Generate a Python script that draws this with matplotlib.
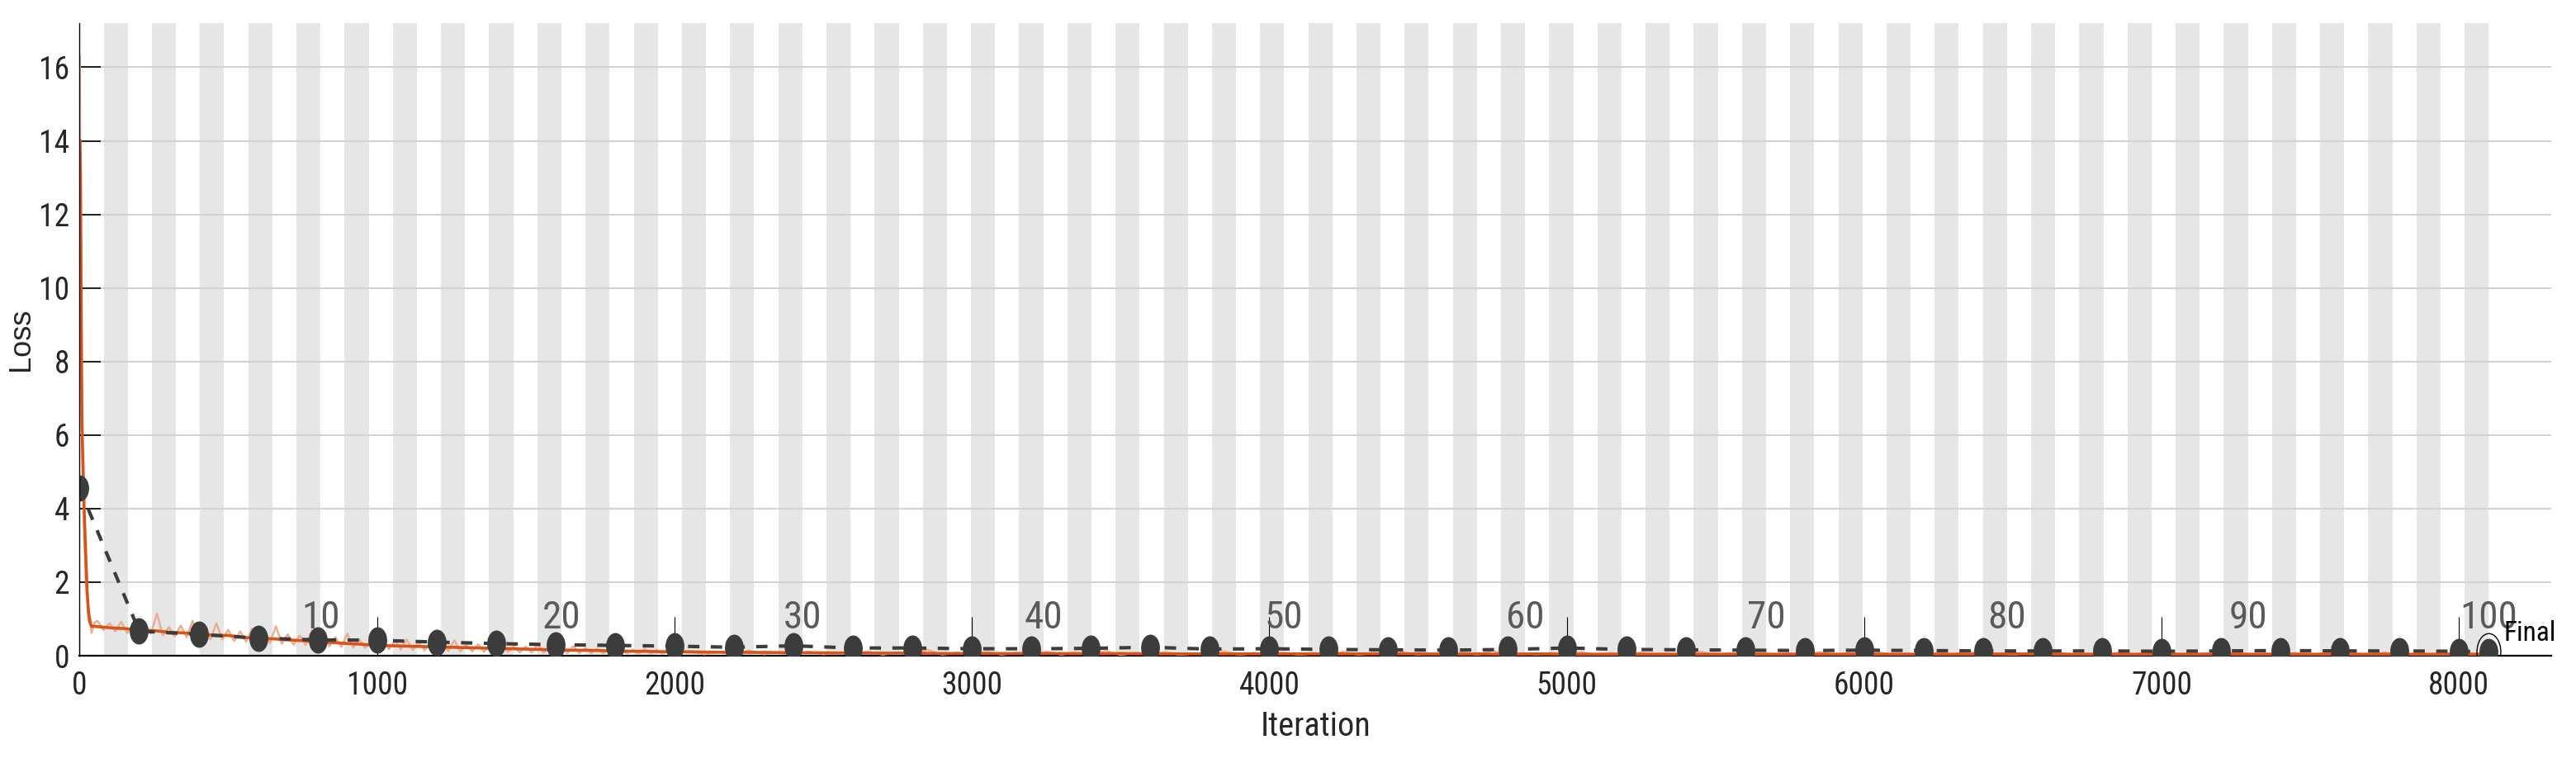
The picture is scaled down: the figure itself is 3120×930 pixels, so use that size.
"""
Training progress plot: loss vs iteration with epoch stripes and validation points.
"""
import matplotlib
matplotlib.use('Agg')
import matplotlib.pyplot as plt
from matplotlib.path import Path
import numpy as np

# ---- data ----
iters_per_epoch = 81
n_epochs = 100
epoch_labels = [10, 20, 30, 40, 50, 60, 70, 80, 90, 100]

early_iters = [1, 2, 3, 5, 8, 12, 16, 20, 25, 30, 35, 40, 50]
early_raw = [16.3, 14.0, 12.6, 9.2, 6.0, 4.6, 3.2, 2.2, 1.6, 0.95, 1.05, 0.62, 0.90]
early_smooth = [14.0, 13.6, 13.0, 10.0, 6.3, 5.0, 3.8, 2.9, 1.8, 1.2, 0.9, 0.8, 0.8]

raw_mid = [
    0.95, 0.70, 0.88, 0.66, 0.92, 0.62, 0.80, 0.58, 0.84, 0.60,
    1.15, 0.55, 0.78, 0.52, 0.82, 0.50, 0.95, 0.48, 0.72, 0.45,
    0.88, 0.44, 0.70, 0.40, 0.66, 0.38, 0.74, 0.36, 0.62, 0.35,
    0.80, 0.33, 0.58, 0.30, 0.55, 0.29, 0.68, 0.27, 0.52, 0.26,
    0.50, 0.24, 0.60, 0.22, 0.45, 0.21, 0.42, 0.19, 0.48, 0.18,
    0.40, 0.17, 0.44, 0.16, 0.36, 0.15, 0.38, 0.14, 0.33, 0.13,
    0.42, 0.12, 0.30, 0.12, 0.31, 0.11, 0.28, 0.10, 0.34, 0.10,
    0.26, 0.09, 0.25, 0.09, 0.30, 0.08, 0.23, 0.08, 0.22, 0.07,
    0.26, 0.07, 0.20, 0.07, 0.19, 0.06, 0.22, 0.06, 0.18, 0.06,
    0.17, 0.05, 0.19, 0.05, 0.16, 0.05, 0.15, 0.05,
]
raw_late = [
    0.12, 0.04, 0.10, 0.03, 0.14, 0.04, 0.09, 0.03, 0.11, 0.04,
    0.08, 0.03, 0.12, 0.03, 0.09, 0.04, 0.16, 0.03, 0.08, 0.03,
    0.10, 0.03, 0.08, 0.02, 0.11, 0.03, 0.09, 0.03, 0.13, 0.02,
    0.08, 0.03, 0.10, 0.02, 0.07, 0.03, 0.12, 0.02, 0.08, 0.03,
    0.09, 0.02, 0.07, 0.03, 0.11, 0.02, 0.08, 0.02, 0.10, 0.03,
    0.07, 0.02, 0.09, 0.02, 0.14, 0.02, 0.07, 0.03, 0.08, 0.02,
    0.10, 0.02, 0.07, 0.02, 0.09, 0.03, 0.06, 0.02, 0.11, 0.02,
    0.07, 0.02, 0.08, 0.02, 0.06, 0.03, 0.10, 0.02, 0.07, 0.02,
    0.09, 0.02, 0.06, 0.02, 0.08, 0.02, 0.12, 0.02, 0.06, 0.02,
    0.07, 0.02, 0.09, 0.02, 0.06, 0.02, 0.08, 0.02, 0.10, 0.02,
    0.06, 0.02, 0.07, 0.02, 0.09, 0.02, 0.06, 0.02, 0.08, 0.02,
    0.07, 0.02, 0.06, 0.02, 0.09, 0.02, 0.06, 0.02, 0.07, 0.02,
    0.06, 0.03,
]
smooth_mid = [
    0.76, 0.74, 0.70, 0.68, 0.64, 0.62, 0.60, 0.56, 0.55, 0.50,
    0.47, 0.46, 0.43, 0.41, 0.37, 0.36, 0.33, 0.31, 0.28, 0.27,
    0.26, 0.25, 0.24, 0.23, 0.22, 0.21, 0.20, 0.19, 0.18, 0.17,
    0.16, 0.15, 0.15, 0.14, 0.13, 0.12, 0.12, 0.11, 0.11,
]
smooth_late = [
    0.10, 0.09, 0.09, 0.08, 0.08, 0.07, 0.07, 0.07, 0.06, 0.06,
    0.06, 0.06, 0.06, 0.05, 0.06, 0.05, 0.05, 0.05, 0.05, 0.05,
    0.05, 0.05, 0.05, 0.05, 0.05, 0.04, 0.05, 0.04, 0.05, 0.04,
    0.04, 0.04, 0.04, 0.04, 0.04, 0.04, 0.04, 0.04, 0.04, 0.04,
    0.04, 0.04, 0.04, 0.04, 0.05, 0.04, 0.04, 0.04, 0.04, 0.04,
    0.04, 0.04, 0.04, 0.04, 0.04, 0.04, 0.04, 0.04, 0.04, 0.04,
    0.04,
]

val_iters = list(range(0, 8001, 200))
val_loss = [
    4.55, 0.67, 0.58, 0.48, 0.43, 0.42, 0.37, 0.33, 0.30, 0.28,
    0.26, 0.23, 0.27, 0.21, 0.21, 0.19, 0.19, 0.20, 0.23, 0.18,
    0.19, 0.17, 0.16, 0.15, 0.17, 0.21, 0.17, 0.16, 0.15, 0.14,
    0.15, 0.14, 0.13, 0.13, 0.13, 0.12, 0.13, 0.14, 0.13, 0.13,
    0.12,
]
final_iter = 8100
final_loss = 0.11

raw_iters = early_iters + list(range(60, 2001, 20)) + list(range(2050, 8101, 50))
raw_loss = early_raw + raw_mid + raw_late
smooth_iters = early_iters + list(range(100, 2001, 50)) + list(range(2100, 8101, 100))
smooth_loss = early_smooth + smooth_mid + smooth_late

# ---- style ----
narrow = ['Roboto Condensed', 'DejaVu Sans']
orange = '#D95319'
raw_color = '#EAAE90'
stripe_color = '#E6E6E6'
grid_color = '#D2D2D2'
val_color = '#3C3C3C'

fig = plt.figure(figsize=(31.2, 9.3), dpi=100)
ax = fig.add_axes([0.0309, 0.1462, 0.9595, 0.8237])
ax.set_xlim(0, 8310)
ax.set_ylim(0, 17.2)

# epoch stripes (every second epoch shaded)
for ep in range(2, n_epochs + 1, 2):
    ax.axvspan((ep - 1) * iters_per_epoch, ep * iters_per_epoch,
               color=stripe_color, lw=0, zorder=0)

for yv in range(2, 17, 2):
    ax.axhline(yv, color=grid_color, lw=1.5, zorder=1)

ax.plot(raw_iters, raw_loss, color=raw_color, lw=1.8, zorder=2)
ax.plot(smooth_iters, smooth_loss, color=orange, lw=2.6, zorder=3)

# elliptical markers like the reference
circ = Path.unit_circle()
ell = Path(circ.vertices * np.array([0.7, 1.0]), circ.codes)
ring = Path(circ.vertices * np.array([0.65, 1.0]), circ.codes)

ax.plot(val_iters + [final_iter], val_loss + [final_loss], color=val_color,
        lw=3.0, dashes=(3.3, 3.3), zorder=4)
ax.plot(val_iters + [final_iter], val_loss + [final_loss], ls='none',
        marker=ell, markersize=22, color=val_color, zorder=5)
ax.plot([final_iter], [final_loss], ls='none', marker=ring, markersize=32,
        markerfacecolor='none', markeredgecolor='black', markeredgewidth=1.0,
        zorder=6)
ax.text(final_iter + 50, 0.25, 'Final', family=narrow, fontsize=24,
        ha='left', va='bottom', color='black', zorder=7)

for ep in epoch_labels:
    ax.text(ep * iters_per_epoch, 0.55, str(ep), family=narrow, fontsize=34,
            color='#5A5A5A', ha='center', va='bottom', zorder=6)

# axes styling
for side in ['top', 'right']:
    ax.spines[side].set_visible(False)
ax.spines['left'].set_linewidth(1.0)
ax.spines['bottom'].set_linewidth(1.6)
ax.spines['left'].set_zorder(8)
ax.spines['bottom'].set_zorder(1.5)

ax.set_xticks(range(0, 8001, 1000))
ax.set_yticks(range(0, 17, 2))
ax.tick_params(axis='x', direction='in', length=34, width=0.8, pad=13,
               labelsize=27, labelcolor='#262626')
ax.tick_params(axis='y', direction='in', length=19, width=1.2, pad=9,
               labelsize=27, labelcolor='#262626')
for lab in ax.get_xticklabels() + ax.get_yticklabels():
    lab.set_family(narrow)

ax.set_xlabel('Iteration', family=narrow, fontsize=29, color='#262626',
              labelpad=8)
ax.set_ylabel('Loss', family=['Liberation Sans', 'DejaVu Sans'], fontsize=26,
              color='#262626', labelpad=3)

fig.savefig('out.png', dpi=100, facecolor='white')
